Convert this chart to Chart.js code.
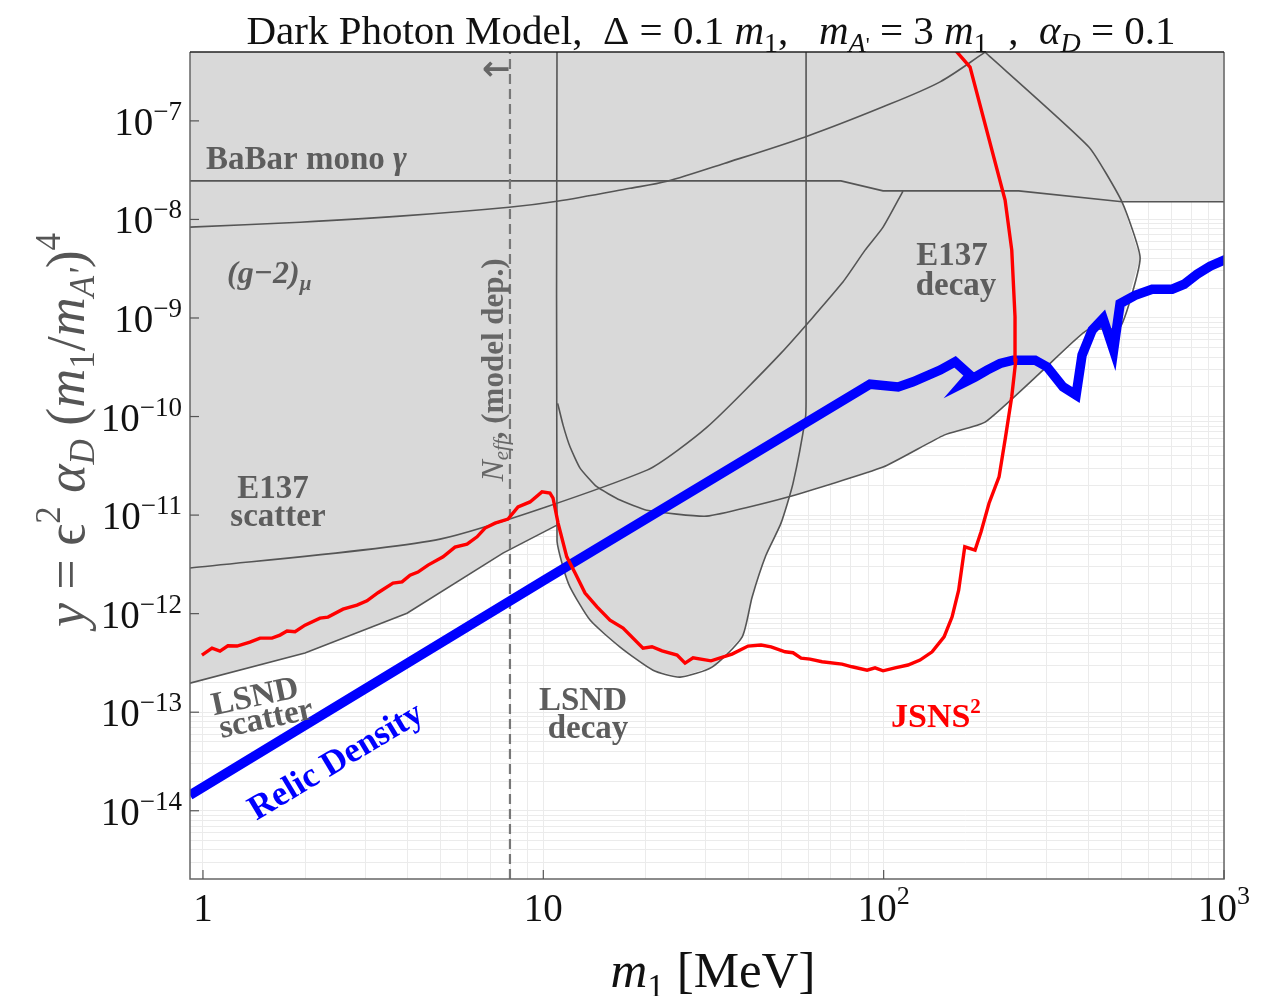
<!DOCTYPE html>
<html>
<head>
<meta charset="utf-8">
<script src="https://cdn.jsdelivr.net/npm/chart.js@4.4.0/dist/chart.umd.min.js"></script>
<style>
  html, body { margin: 0; padding: 0; background: #fff; }
  #wrap { width: 1269px; height: 996px; position: relative; }
</style>
</head>
<body>
<div id="wrap"><canvas id="chart"></canvas></div>
<script>
'use strict';

// axis range (m1 in MeV, y dimensionless)
var xMin = 0.916, xMax = 1000;
var yMin = 2.03e-15, yMax = 5.0e-7;

// decade ticks and their labels
var xTicks = [1, 10, 100, 1000];
var xTickBase = ['1', '10', '10', '10'];
var xTickExp = ['', '', '2', '3'];
var yTicks = [1e-14, 1e-13, 1e-12, 1e-11, 1e-10, 1e-9, 1e-8, 1e-7];
var yTickExp = ['\u221214', '\u221213', '\u221212', '\u221211', '\u221210', '\u22129', '\u22128', '\u22127'];

// relic density target (blue)
var relicMass = [0.916, 9.98, 91.2, 110.3, 122.0, 146.5, 162.2, 179.4, 171.1, 185.6, 201.3, 219.8, 240.1, 278.6, 302.1,
  336.6, 367.6, 382.8, 409.8, 441.3, 473.8, 495.1, 548.0, 614.9, 704.1, 763.5, 833.7, 910.3, 1014];
var relicY = [1.44e-14, 2.15e-12, 2.13e-10, 2.00e-10, 2.25e-10, 2.96e-10, 3.59e-10, 2.63e-10, 2.18e-10, 2.51e-10, 2.96e-10,
  3.46e-10, 3.73e-10, 3.73e-10, 3.19e-10, 2.00e-10, 1.65e-10, 4.20e-10, 7.53e-10, 9.89e-10, 4.72e-10, 1.40e-9,
  1.70e-9, 1.96e-9, 1.96e-9, 2.20e-9, 2.78e-9, 3.36e-9, 3.95e-9];

// JSNS^2 sensitivity (red)
var jsnsMass = [0.993, 1.063, 1.122, 1.184, 1.259, 1.374, 1.471, 1.595, 1.684, 1.766, 1.864, 1.994, 2.207, 2.330, 2.579,
  2.835, 3.033, 3.268, 3.617, 3.845, 4.059, 4.283, 4.584, 5.075, 5.502, 5.968, 6.387, 6.743, 7.215, 7.875, 8.428,
  9.14, 9.91, 10.46, 10.68, 11.05, 11.72, 12.40, 13.26, 14.38, 15.70, 17.15, 19.63, 20.86, 22.33, 24.72, 26.09,
  27.54, 31.10, 35.85, 39.95, 43.62, 46.69, 51.32, 54.17, 57.20, 60.77, 65.92, 75.45, 80.74, 89.40, 94.34, 99.6,
  108.0, 117.9, 127.9, 138.8, 150.5, 158.9, 166.1, 173.1, 185.6, 193.3, 204.0, 218.3, 228.1, 237.8, 244.5, 243.2,
  237.9, 227.4, 179.4, 164.3, 156.7];
var jsnsY = [3.80e-13, 4.47e-13, 4.17e-13, 4.72e-13, 4.69e-13, 5.14e-13, 5.65e-13, 5.65e-13, 6.06e-13, 6.65e-13, 6.55e-13,
  7.65e-13, 9.01e-13, 9.23e-13, 1.11e-12, 1.22e-12, 1.35e-12, 1.63e-12, 2.04e-12, 2.10e-12, 2.46e-12, 2.64e-12,
  3.11e-12, 3.77e-12, 4.73e-12, 5.08e-12, 6.02e-12, 7.38e-12, 8.29e-12, 9.10e-12, 1.21e-11, 1.36e-11, 1.72e-11,
  1.67e-11, 1.49e-11, 8.29e-12, 3.77e-12, 2.58e-12, 1.62e-12, 1.17e-12, 8.60e-13, 7.14e-13, 4.47e-13, 4.61e-13,
  4.20e-13, 3.80e-13, 3.15e-13, 3.57e-13, 3.32e-13, 3.89e-13, 4.69e-13, 4.80e-13, 4.61e-13, 4.10e-13, 4.01e-13,
  3.54e-13, 3.46e-13, 3.25e-13, 3.08e-13, 2.89e-13, 2.67e-13, 2.82e-13, 2.63e-13, 2.82e-13, 3.01e-13, 3.38e-13,
  4.10e-13, 5.82e-13, 9.29e-13, 1.73e-12, 4.77e-12, 4.41e-12, 6.77e-12, 1.32e-11, 2.44e-11, 6.22e-11, 1.58e-10,
  3.73e-10, 1.03e-9, 4.88e-9, 1.57e-8, 3.51e-7, 4.98e-7, 6.0e-7];

// exclusion boundaries (grey)
var babarMass = [0.916, 74.9, 99.6, 249.3, 501.7, 1000];
var babarY = [2.46e-8, 2.46e-8, 1.95e-8, 1.95e-8, 1.51e-8, 1.51e-8];

var g2Mass = [0.916, 1.93, 3.79, 7.93, 10.97, 17.97, 23.1, 34.0, 58.8, 99.6, 146.5, 198.6];
var g2Y = [8.35e-9, 9.38e-9, 1.08e-8, 1.33e-8, 1.53e-8, 2.07e-8, 2.44e-8, 3.70e-8, 6.88e-8, 1.39e-7, 2.49e-7, 4.98e-7];

var e137ScatMass = [0.916, 4.972, 20.17, 30.27, 49.94, 75.47, 88.2, 99.6, 114.0];
var e137ScatY = [2.90e-12, 5.70e-12, 2.86e-11, 7.81e-11, 4.40e-10, 2.26e-9, 4.88e-9, 8.35e-9, 1.94e-8];

var lsndScatMass = [0.916, 1.994, 3.977, 7.61, 10.97];
var lsndScatY = [1.97e-13, 3.98e-13, 1.01e-12, 4.11e-12, 7.91e-12];

var lsndDecayMass = [10.97, 10.97, 11.43, 11.98, 13.72, 16.81, 21.01, 25.22, 31.31, 38.37, 41.06, 45.12, 49.94, 54.18,
  58.95, 59.16, 59.16];
var lsndDecayY = [5.0e-7, 5.57e-12, 2.97e-12, 1.86e-12, 8.60e-13, 4.58e-13, 2.67e-13, 2.27e-13, 2.87e-13, 5.78e-13,
  1.47e-12, 3.93e-12, 8.29e-12, 2.11e-11, 9.86e-11, 1.47e-10, 5.0e-7];

var e137DecayMass = [11.02, 11.43, 11.98, 12.82, 14.36, 16.81, 20.13, 30.21, 52.02, 99.6, 150.5, 198.6, 294.1, 396.0,
  495.1, 567.0, 501.8, 401.4, 198.6];
var e137DecayY = [1.36e-10, 8.18e-11, 4.93e-11, 3.00e-11, 1.94e-11, 1.42e-11, 1.12e-11, 9.76e-12, 1.52e-11, 3.07e-11,
  6.48e-11, 8.78e-11, 2.96e-10, 7.53e-10, 8.07e-10, 4.05e-9, 1.50e-8, 5.41e-8, 4.98e-7];

var neffMass = 7.98;

var GREY_FILL = '#d9d9d9';
var GREY_LINE = '#555555';
var LABEL_GREY = '#5d5d5d';
var serif = '"Liberation Serif", "DejaVu Serif", serif';

function pts(ms, ys) {
  return ms.map(function(m, i) { return {x: m, y: ys[i]}; });
}

// closes a boundary against the top of the plot
function toTop(ms, ys, corners) {
  var p = pts(ms, ys);
  corners.forEach(function(m) { p.push({x: m, y: yMax}); });
  return p;
}

function fillSet(data) {
  return {data: data, showLine: true, fill: 'shape', backgroundColor: GREY_FILL,
    borderWidth: 0, pointRadius: 0, tension: 0, clip: 0};
}

function edgeSet(data, tension) {
  return {data: data, showLine: true, fill: false, borderColor: GREY_LINE,
    borderWidth: 1.6, pointRadius: 0, tension: tension || 0, clip: 0};
}

function font(style, size, family) {
  return style + ' ' + size + 'px ' + (family || serif);
}

// draws runs of text [text, font, dy] next to each other
function drawRich(ctx, x, y, parts, align) {
  var w = 0;
  parts.forEach(function(p) { ctx.font = p[1]; w += ctx.measureText(p[0]).width; });
  var cx = align === 'center' ? x - w / 2 : (align === 'right' ? x - w : x);
  ctx.textAlign = 'left';
  ctx.textBaseline = 'alphabetic';
  parts.forEach(function(p) {
    ctx.font = p[1];
    ctx.fillText(p[0], cx, y + (p[2] || 0));
    cx += ctx.measureText(p[0]).width;
  });
}

function rotated(ctx, x, y, deg, fn) {
  ctx.save();
  ctx.translate(x, y);
  ctx.rotate(deg * Math.PI / 180);
  fn();
  ctx.restore();
}

var paperText = {
  id: 'paperText',
  afterDraw: function(chart) {
    var ctx = chart.ctx, a = chart.chartArea;
    var xs = chart.scales.x, ys = chart.scales.y;
    ctx.save();

    // frame
    ctx.lineWidth = 1.5;
    ctx.strokeStyle = '#666';
    ctx.beginPath();
    ctx.moveTo(a.left, a.top); ctx.lineTo(a.left, a.bottom);
    ctx.lineTo(a.right, a.bottom); ctx.lineTo(a.right, a.top);
    ctx.stroke();
    ctx.strokeStyle = '#222';
    ctx.beginPath();
    ctx.moveTo(a.left, a.top); ctx.lineTo(a.right, a.top);
    ctx.stroke();

    // inward decade ticks
    ctx.strokeStyle = '#555';
    ctx.lineWidth = 1.2;
    xTicks.forEach(function(v) {
      var px = xs.getPixelForValue(v);
      ctx.beginPath(); ctx.moveTo(px, a.bottom); ctx.lineTo(px, a.bottom - 9); ctx.stroke();
    });
    yTicks.forEach(function(v) {
      var py = ys.getPixelForValue(v);
      ctx.beginPath(); ctx.moveTo(a.left, py); ctx.lineTo(a.left + 9, py); ctx.stroke();
    });

    // tick labels
    ctx.fillStyle = '#111';
    xTicks.forEach(function(v, i) {
      var px = xs.getPixelForValue(v);
      drawRich(ctx, px, a.bottom + 42, [[xTickBase[i], font('', 39)], [xTickExp[i], font('', 26), -17]], 'center');
    });
    yTicks.forEach(function(v, i) {
      var py = ys.getPixelForValue(v);
      drawRich(ctx, a.left - 8, py + 14, [['10', font('', 39)], [yTickExp[i], font('', 27), -15]], 'right');
    });

    // title
    ctx.fillStyle = '#111';
    drawRich(ctx, 711, 44, [
      ['Dark Photon Model,  \u0394 = 0.1 ', font('', 41)], ['m', font('italic', 41)], ['1', font('', 28), 8],
      [',   ', font('', 41)], ['m', font('italic', 41)], ['A', font('italic', 28), 8], ['\'', font('', 22), 8],
      [' = 3 ', font('', 41)], ['m', font('italic', 41)], ['1', font('', 28), 8],
      ['  ,  ', font('', 41)], ['\u03b1', font('italic', 41)], ['D', font('italic', 28), 8],
      [' = 0.1', font('', 41)]
    ], 'center');

    // axis titles
    drawRich(ctx, 713, 987, [['m', font('italic', 51)], ['1', font('', 33), 10], [' [MeV]', font('', 51)]], 'center');
    ctx.fillStyle = '#555';
    rotated(ctx, 84, 430, -90, function() {
      drawRich(ctx, 0, 0, [
        ['y', font('italic', 54)], [' = ', font('', 54)], ['\u03f5', font('', 54)], ['2', font('', 35), -24],
        [' ', font('', 54)], ['\u03b1', font('italic', 54)], ['D', font('italic', 35), 10],
        [' (', font('', 54)], ['m', font('italic', 54)], ['1', font('', 35), 10], ['/', font('', 54)],
        ['m', font('italic', 54)], ['A\'', font('italic', 35), 10], [')', font('', 54)], ['4', font('', 35), -24]
      ], 'center');
    });

    // region labels
    ctx.fillStyle = LABEL_GREY;
    drawRich(ctx, 206, 169, [['BaBar mono ', font('bold', 33)], ['\u03b3', font('bold italic', 33)]], 'left');
    drawRich(ctx, 227, 283, [['(g\u22122)', font('bold italic', 32)], ['\u03bc', font('bold italic', 21), 7]], 'left');
    drawRich(ctx, 273, 498, [['E137', font('bold', 33)]], 'center');
    drawRich(ctx, 278, 526, [['scatter', font('bold', 33)]], 'center');
    drawRich(ctx, 952, 265, [['E137', font('bold', 33)]], 'center');
    drawRich(ctx, 956, 295, [['decay', font('bold', 33)]], 'center');
    drawRich(ctx, 583, 710, [['LSND', font('bold', 33)]], 'center');
    drawRich(ctx, 588, 738, [['decay', font('bold', 33)]], 'center');
    rotated(ctx, 257, 706, -12, function() {
      drawRich(ctx, 0, 0, [['LSND', font('bold', 33)]], 'center');
    });
    rotated(ctx, 268, 728, -12, function() {
      drawRich(ctx, 0, 0, [['scatter', font('bold', 33)]], 'center');
    });

    ctx.fillStyle = '#0000ff';
    rotated(ctx, 341, 770, -31, function() {
      drawRich(ctx, 0, 0, [['Relic Density', font('bold', 35)]], 'center');
    });

    ctx.fillStyle = '#ff0000';
    drawRich(ctx, 891, 727, [['JSNS', font('bold', 34)], ['2', font('bold', 21), -14]], 'left');

    // N_eff label and arrow
    ctx.fillStyle = '#666';
    rotated(ctx, 503, 370, -90, function() {
      drawRich(ctx, 0, 0, [['N', font('italic', 32)], ['eff', font('italic', 21), 5],
        [', (model dep.)', font('bold', 31)]], 'center');
    });
    drawRich(ctx, 496, 80, [['\u2190', font('bold', 34, '"DejaVu Sans", sans-serif')]], 'center');

    ctx.restore();
  }
};

function decadeGrid(lo, hi) {
  var out = [];
  for (var e = lo; e <= hi; e++) {
    for (var k = 1; k <= 9; k++) out.push(k * Math.pow(10, e));
  }
  return out;
}

var chartCanvas = document.getElementById('chart');

new Chart(chartCanvas.getContext('2d'), {
  type: 'scatter',
  data: {
    datasets: [
      {label: 'JSNS2', data: pts(jsnsMass, jsnsY), showLine: true, borderColor: '#ff0000', borderWidth: 3.4,
        pointRadius: 0, fill: false, tension: 0, clip: 0},
      {label: 'Relic Density', data: pts(relicMass, relicY), showLine: true, borderColor: '#0000ff', borderWidth: 9.5,
        pointRadius: 0, fill: false, tension: 0, clip: 0},
      {label: 'Neff', data: [{x: neffMass, y: yMin}, {x: neffMass, y: yMax}], showLine: true, borderColor: '#777777',
        borderWidth: 2.2, borderDash: [10, 5], pointRadius: 0, fill: false, clip: 0},
      edgeSet(pts(babarMass, babarY)),
      edgeSet(pts(g2Mass, g2Y), 0.3),
      edgeSet(pts(e137ScatMass, e137ScatY), 0.2),
      edgeSet(pts(lsndScatMass, lsndScatY)),
      edgeSet(pts(lsndDecayMass, lsndDecayY), 0.2),
      edgeSet(pts(e137DecayMass, e137DecayY), 0.15),
      fillSet(toTop(babarMass, babarY, [1000, 0.916])),
      fillSet(toTop(g2Mass, g2Y, [0.916])),
      fillSet(toTop(e137ScatMass, e137ScatY, [114.0, 0.916])),
      fillSet(toTop(lsndScatMass, lsndScatY, [10.97, 0.916])),
      fillSet(pts(lsndDecayMass, lsndDecayY)),
      fillSet(toTop(e137DecayMass, e137DecayY, [11.02]))
    ]
  },
  options: {
    responsive: true,
    maintainAspectRatio: false,
    animation: false,
    layout: {padding: {left: 190, top: 52, right: 45, bottom: 117}},
    plugins: {legend: {display: false}, tooltip: {enabled: false}},
    scales: {
      x: {
        type: 'logarithmic', min: xMin, max: xMax, bounds: 'data',
        ticks: {display: false},
        grid: {color: '#ebebeb', lineWidth: 1, drawTicks: false},
        border: {display: false},
        afterBuildTicks: function(scale) {
          scale.ticks = decadeGrid(0, 2).concat([1000]).map(function(v) { return {value: v}; });
        },
        afterFit: function(scale) { scale.height = 0; }
      },
      y: {
        type: 'logarithmic', min: yMin, max: yMax, bounds: 'data',
        ticks: {display: false},
        grid: {color: '#ebebeb', lineWidth: 1, drawTicks: false},
        border: {display: false},
        afterBuildTicks: function(scale) {
          scale.ticks = decadeGrid(-15, -7).filter(function(v) { return v >= yMin && v <= yMax; })
            .map(function(v) { return {value: v}; });
        },
        afterFit: function(scale) { scale.width = 0; }
      }
    }
  },
  plugins: [paperText]
});
</script>
</body>
</html>
